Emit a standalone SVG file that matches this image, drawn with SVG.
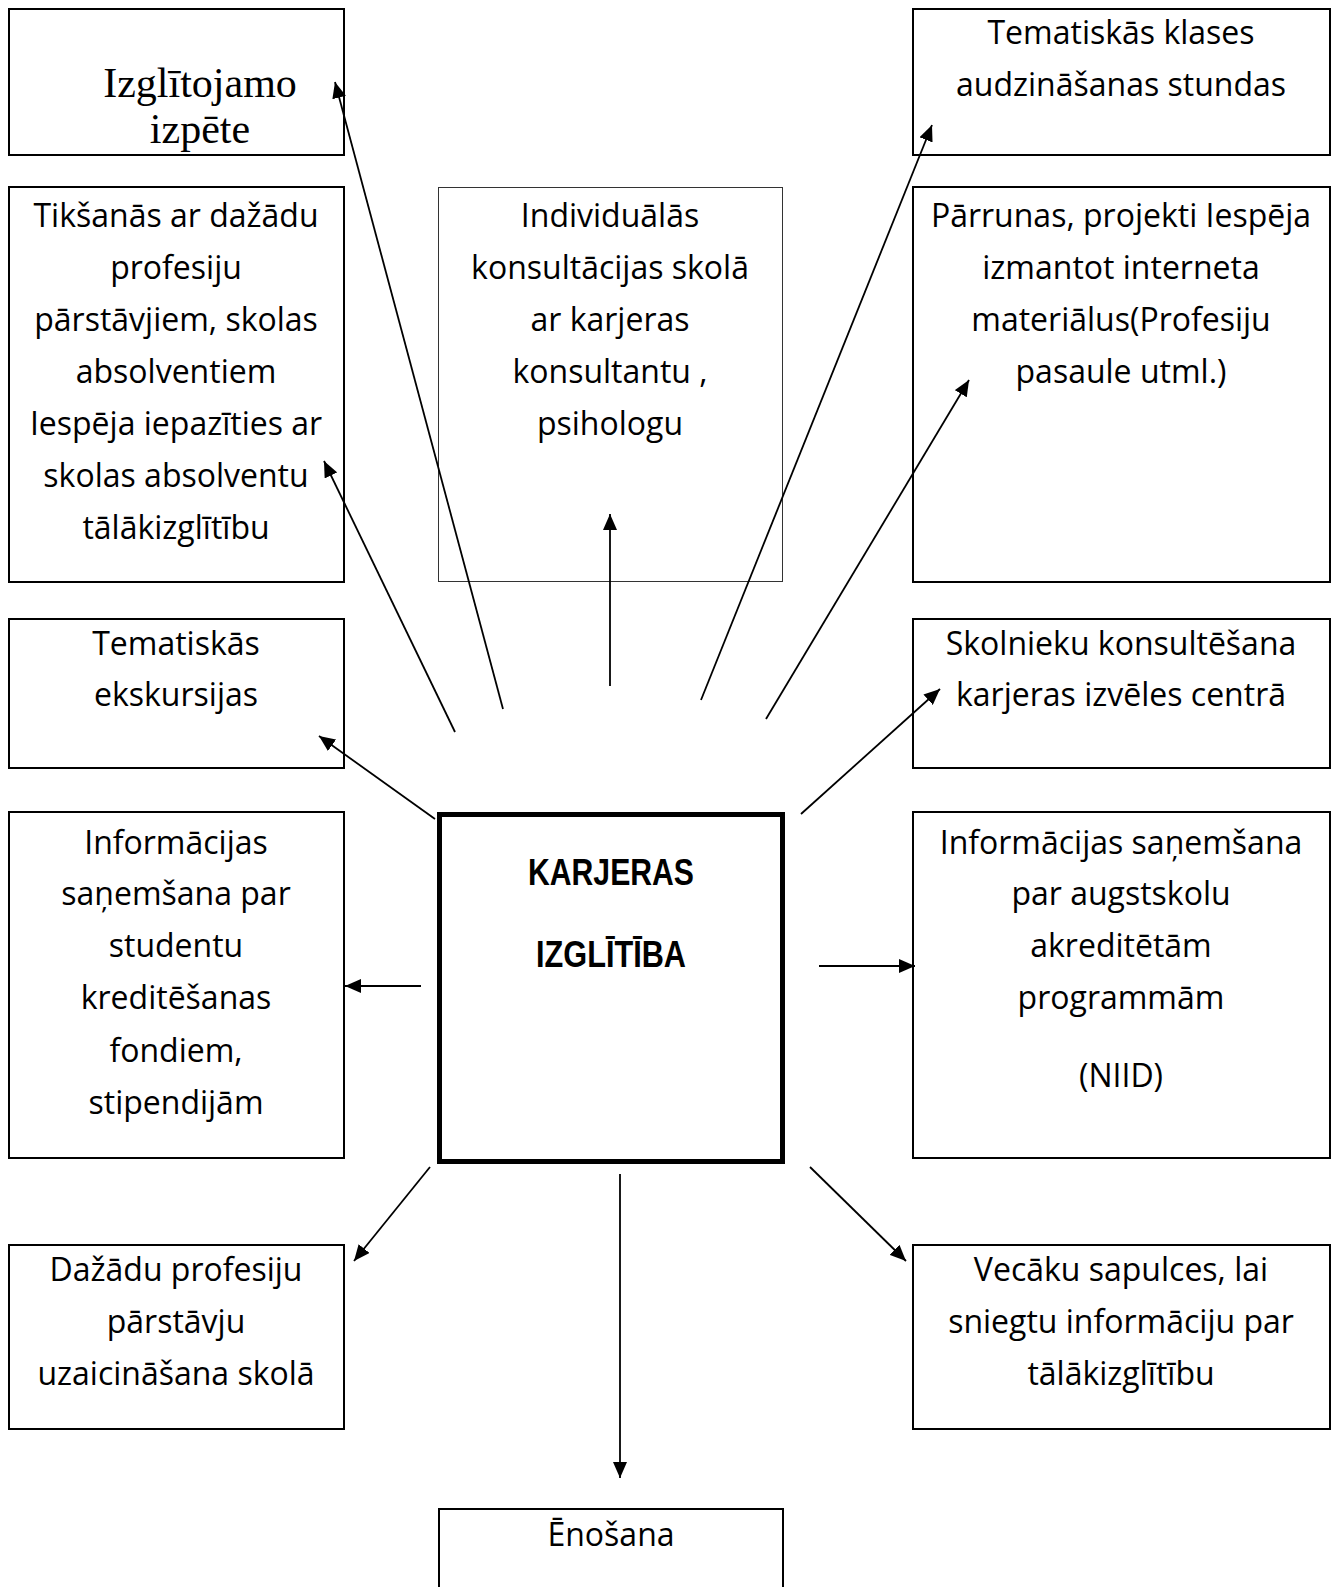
<svg xmlns="http://www.w3.org/2000/svg" width="1332" height="1587" viewBox="0 0 1332 1587">
<defs>
<style>
.box{fill:#fff;stroke:#000;stroke-width:2}
.thin{fill:#fff;stroke:#333;stroke-width:1}
.t{font-family:"Open Sans","Liberation Sans",sans-serif;font-size:32px;fill:#000;text-anchor:middle}
.serif{font-family:"Liberation Serif","Times New Roman",serif;font-size:42px;fill:#000;text-anchor:middle}
.bold{font-family:"Liberation Sans",Arial,sans-serif;font-size:36px;font-weight:bold;fill:#000;text-anchor:middle}
.c{stroke:#000;stroke-width:1.8;fill:none;marker-end:url(#ah)}
</style>
<marker id="ah" markerWidth="16" markerHeight="14" refX="16" refY="7" orient="auto" markerUnits="userSpaceOnUse">
<path d="M0,0 L16,7 L0,14 z" fill="#000"/>
</marker>
</defs>
<rect width="1332" height="1587" fill="#fff"/>

<g id="izglitojamo">
<rect class="box" x="9" y="9" width="335" height="146"/>
<text class="serif" x="200" y="97">Izglītojamo</text>
<text class="serif" x="200" y="143">izpēte</text>
</g>

<g id="tiksanas">
<rect class="box" x="9" y="187" width="335" height="395"/>
<text class="t" x="176" y="227">Tikšanās ar dažādu</text>
<text class="t" x="176" y="279">profesiju</text>
<text class="t" x="176" y="331">pārstāvjiem, skolas</text>
<text class="t" x="176" y="383">absolventiem</text>
<text class="t" x="176" y="435">Iespēja iepazīties ar</text>
<text class="t" x="176" y="487">skolas absolventu</text>
<text class="t" x="176" y="539">tālākizglītību</text>
</g>

<g id="individualas">
<rect class="thin" x="438.5" y="187.5" width="344" height="394"/>
<text class="t" x="610" y="227">Individuālās</text>
<text class="t" x="610" y="279">konsultācijas skolā</text>
<text class="t" x="610" y="331">ar karjeras</text>
<text class="t" x="610" y="383">konsultantu ,</text>
<text class="t" x="610" y="435">psihologu</text>
</g>

<g id="klases">
<rect class="box" x="913" y="9" width="417" height="146"/>
<text class="t" x="1121" y="44">Tematiskās klases</text>
<text class="t" x="1121" y="96">audzināšanas stundas</text>
</g>

<g id="parrunas">
<rect class="box" x="913" y="187" width="417" height="395"/>
<text class="t" x="1121" y="227">Pārrunas, projekti Iespēja</text>
<text class="t" x="1121" y="279">izmantot interneta</text>
<text class="t" x="1121" y="331">materiālus(Profesiju</text>
<text class="t" x="1121" y="383">pasaule utml.)</text>
</g>

<g id="ekskursijas">
<rect class="box" x="9" y="619" width="335" height="149"/>
<text class="t" x="176" y="655">Tematiskās</text>
<text class="t" x="176" y="706">ekskursijas</text>
</g>

<g id="skolnieku">
<rect class="box" x="913" y="619" width="417" height="149"/>
<text class="t" x="1121" y="655">Skolnieku konsultēšana</text>
<text class="t" x="1121" y="706">karjeras izvēles centrā</text>
</g>

<g id="kreditesana">
<rect class="box" x="9" y="812" width="335" height="346"/>
<text class="t" x="176" y="854">Informācijas</text>
<text class="t" x="176" y="905">saņemšana par</text>
<text class="t" x="176" y="957">studentu</text>
<text class="t" x="176" y="1009">kreditēšanas</text>
<text class="t" x="176" y="1062">fondiem,</text>
<text class="t" x="176" y="1114">stipendijām</text>
</g>

<g id="karjeras">
<rect x="439.5" y="814.5" width="343" height="347" fill="#fff" stroke="#000" stroke-width="5"/>
<text class="bold" x="611" y="885" textLength="166" lengthAdjust="spacingAndGlyphs">KARJERAS</text>
<text class="bold" x="611" y="967" textLength="150" lengthAdjust="spacingAndGlyphs">IZGLĪTĪBA</text>
</g>

<g id="augstskolu">
<rect class="box" x="913" y="812" width="417" height="346"/>
<text class="t" x="1121" y="854">Informācijas saņemšana</text>
<text class="t" x="1121" y="905">par augstskolu</text>
<text class="t" x="1121" y="957">akreditētām</text>
<text class="t" x="1121" y="1009">programmām</text>
<text class="t" x="1121" y="1087">(NIID)</text>
</g>

<g id="dazadu">
<rect class="box" x="9" y="1245" width="335" height="184"/>
<text class="t" x="176" y="1281">Dažādu profesiju</text>
<text class="t" x="176" y="1333">pārstāvju</text>
<text class="t" x="176" y="1385">uzaicināšana skolā</text>
</g>

<g id="vecaku">
<rect class="box" x="913" y="1245" width="417" height="184"/>
<text class="t" x="1121" y="1281">Vecāku sapulces, lai</text>
<text class="t" x="1121" y="1333">sniegtu informāciju par</text>
<text class="t" x="1121" y="1385">tālākizglītību</text>
</g>

<g id="enosana">
<rect class="box" x="439" y="1509" width="344" height="100"/>
<text class="t" x="611" y="1546">Ēnošana</text>
</g>

<g id="connectors">
<line class="c" x1="503" y1="709" x2="335" y2="82"/>
<line class="c" x1="455" y1="732" x2="324" y2="461"/>
<line class="c" x1="610" y1="686" x2="610" y2="514"/>
<line class="c" x1="701" y1="700" x2="932" y2="125"/>
<line class="c" x1="766" y1="719" x2="969" y2="380"/>
<line class="c" x1="435" y1="819" x2="319" y2="736"/>
<line class="c" x1="801" y1="814" x2="940" y2="689"/>
<line class="c" x1="421" y1="986" x2="345" y2="986"/>
<line class="c" x1="819" y1="966" x2="915" y2="966"/>
<line class="c" x1="430" y1="1167" x2="354" y2="1261"/>
<line class="c" x1="810" y1="1167" x2="906" y2="1261"/>
<line class="c" x1="620" y1="1174" x2="620" y2="1478"/>
</g>
</svg>
